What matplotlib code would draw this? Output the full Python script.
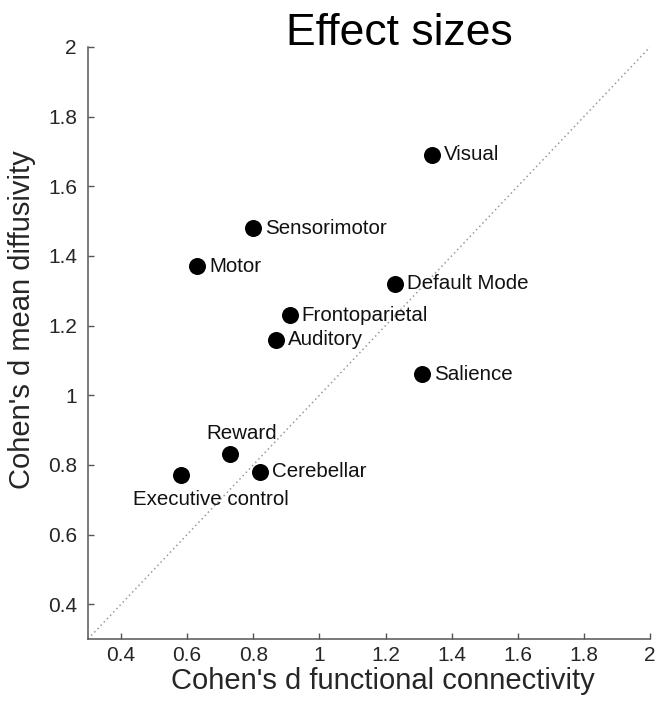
import matplotlib.pyplot as plt
import matplotlib.ticker as mticker

# Effect sizes per network: functional connectivity vs mean diffusivity
networks = ["Visual", "Sensorimotor", "Motor", "Default Mode", "Frontoparietal",
            "Auditory", "Salience", "Reward", "Cerebellar", "Executive control"]
fc_d = [1.34, 0.80, 0.63, 1.23, 0.91, 0.87, 1.31, 0.73, 0.82, 0.58]
md_d = [1.69, 1.48, 1.37, 1.32, 1.23, 1.16, 1.06, 0.83, 0.78, 0.77]
ticks = [0.4, 0.6, 0.8, 1.0, 1.2, 1.4, 1.6, 1.8, 2.0]

plt.rcParams["font.family"] = ["Liberation Sans", "DejaVu Sans"]

fig = plt.figure(figsize=(6.57, 7.05), dpi=100)
ax = fig.add_axes([88 / 657, 66 / 705, 562 / 657, 592 / 705])

# identity line
ax.plot([0.3, 2], [0.3, 2], ls=(0, (1, 2)), color="#9a9a9a", lw=1.1, zorder=1)
ax.scatter(fc_d, md_d, s=150, color="black", zorder=3, linewidths=0)

# label placement (offset in pixels from the dot)
offsets = {"Reward": (12, 21, "center"), "Executive control": (30, -24, "center")}
for name, x, y in zip(networks, fc_d, md_d):
    dx, dy, ha = offsets.get(name, (12, 0, "left"))
    ax.annotate(name, (x, y), xytext=(dx, dy), textcoords="offset pixels",
                ha=ha, va="center", fontsize=14.8, color="#111111")

ax.set_xlim(0.3, 2)
ax.set_ylim(0.3, 2)
ax.set_xticks(ticks)
ax.set_yticks(ticks)
fmt = mticker.FormatStrFormatter("%g")
ax.xaxis.set_major_formatter(fmt)
ax.yaxis.set_major_formatter(fmt)
ax.tick_params(direction="in", length=4, width=1, color="#555555",
               labelsize=15, labelcolor="#262626")
ax.tick_params(axis="y", pad=8)
ax.tick_params(axis="x", pad=5)
for side in ("top", "right"):
    ax.spines[side].set_visible(False)
for side in ("left", "bottom"):
    ax.spines[side].set_color("#555555")
    ax.spines[side].set_linewidth(1.1)

fig.text(383 / 657, 1 - 681 / 705, "Cohen's d functional connectivity",
         ha="center", va="center", fontsize=21, color="#262626")
fig.text(22 / 657, 1 - 320 / 705, "Cohen's d mean diffusivity", rotation=90,
         ha="center", va="center", fontsize=21, color="#262626")
fig.text(399 / 657, 1 - 45 / 705, "Effect sizes", ha="center", va="baseline",
         fontsize=32, color="black")

fig.savefig("out.png", dpi=100)
